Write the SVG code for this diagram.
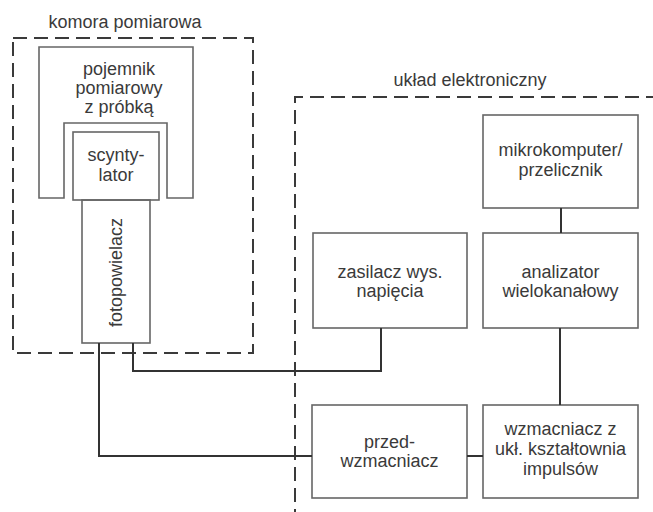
<svg xmlns="http://www.w3.org/2000/svg" width="653" height="512" viewBox="0 0 653 512">
<style>
text{font-family:"Liberation Sans",Arial,sans-serif;font-size:18px;fill:#3a3a3a;text-anchor:middle}
.box{fill:none;stroke:#666;stroke-width:1.6}
.dash{fill:none;stroke:#3a3a3a;stroke-width:2;stroke-dasharray:14 7}
.wire{fill:none;stroke:#333;stroke-width:2}
</style>
<rect width="653" height="512" fill="#fff"/>
<g id="komora">
<path class="dash" d="M13,38 H253 V353 H13 Z"/>
<text x="125" y="28">komora pomiarowa</text>
</g>
<g id="uklad">
<path class="dash" d="M660,97 H295 V512"/>
<text x="470" y="86">układ elektroniczny</text>
</g>
<g id="pojemnik">
<path class="box" d="M39,47 H193 V198 H167 V123 H64 V198 H39 Z"/>
<text x="119" y="75">pojemnik</text>
<text x="119" y="94">pomiarowy</text>
<text x="119" y="113">z próbką</text>
</g>
<g id="scyntylator">
<rect class="box" x="73" y="132" width="86" height="68"/>
<text x="116" y="161">scynty-</text>
<text x="116" y="181">lator</text>
</g>
<g id="fotopowielacz">
<rect class="box" x="82" y="200" width="68" height="143"/>
<text transform="translate(122,272.5) rotate(-90)" x="0" y="0">fotopowielacz</text>
</g>
<g id="mikrokomputer">
<rect class="box" x="483" y="115" width="155" height="93"/>
<text x="560.5" y="156">mikrokomputer/</text>
<text x="560.5" y="176">przelicznik</text>
</g>
<g id="zasilacz">
<rect class="box" x="313" y="233" width="154" height="95"/>
<text x="390" y="278">zasilacz wys.</text>
<text x="390" y="297">napięcia</text>
</g>
<g id="analizator">
<rect class="box" x="483" y="233" width="155" height="95"/>
<text x="560.5" y="278">analizator</text>
<text x="560.5" y="297">wielokanałowy</text>
</g>
<g id="przedwzmacniacz">
<rect class="box" x="312" y="405" width="155" height="93"/>
<text x="389.5" y="448">przed-</text>
<text x="389.5" y="467">wzmacniacz</text>
</g>
<g id="wzmacniacz">
<rect class="box" x="483" y="405" width="155" height="93"/>
<text x="560.5" y="435">wzmacniacz z</text>
<text x="560.5" y="455">ukł. kształtownia</text>
<text x="560.5" y="475">impulsów</text>
</g>
<g id="connectors">
<path class="wire" d="M99,343 V456 H312"/>
<path class="wire" d="M133,343 V371 H381 V328"/>
<path class="wire" d="M561,208 V233"/>
<path class="wire" d="M560,328 V405"/>
<path class="wire" d="M467,456 H483"/>
</g>
</svg>
